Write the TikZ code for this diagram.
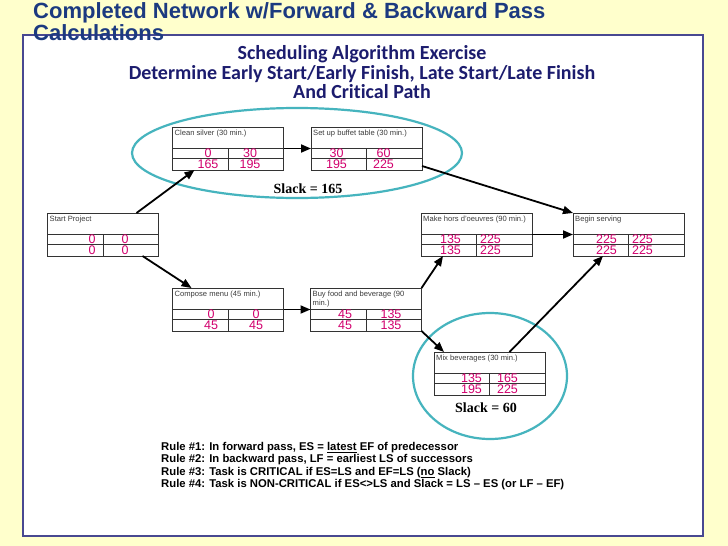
\documentclass[tikz,border=0pt]{standalone}
\usepackage{fontspec}
\setmainfont{Liberation Sans}
\newfontfamily\calib{Carlito}[Ligatures=NoCommon]
\newfontfamily\timesf{Liberation Serif}
\usetikzlibrary{arrows.meta}
\definecolor{bgyellow}{RGB}{255,255,204}
\definecolor{framebl}{RGB}{72,72,145}
\definecolor{titlebl}{RGB}{28,58,128}
\definecolor{subbl}{RGB}{28,28,110}
\definecolor{numpink}{RGB}{210,0,110}
\definecolor{ellteal}{RGB}{70,180,190}
\definecolor{lblgray}{RGB}{60,60,60}
\newcommand{\mytask}[9]{%
  \node[taskbox] (#1) at (#2) {};
  \draw[boxline] ([yshift=-21pt]#1.north west) -- ([yshift=-21pt]#1.north east);
  \draw[boxline] ([yshift=-31.5pt]#1.north west) -- ([yshift=-31.5pt]#1.north east);
  \draw[boxline] ([yshift=-21pt]#1.north) -- (#1.south);
  \node[lbl] (#1-l) at ([xshift=2pt,yshift=-3pt]#1.north west) {#3};
  \node[num] (#1-es) at ([xshift=#8pt,yshift=-4.5pt]#1.center) {#4};
  \node[num] (#1-ef) at ([xshift=#9pt,yshift=-4.5pt]#1.center) {#5};
  \node[num] (#1-ls) at ([xshift=#8pt,yshift=-15.5pt]#1.center) {#6};
  \node[num] (#1-lf) at ([xshift=#9pt,yshift=-15.5pt]#1.center) {#7};
}
\begin{document}
\begin{tikzpicture}[x=1pt,y=-1pt,
  taskbox/.style={draw=black!80, line width=0.8pt, minimum width=111pt, minimum height=43pt, inner sep=0pt, outer sep=0pt},
  boxline/.style={draw=black!80, line width=0.8pt},
  arr/.style={draw=black, line width=1.8pt, -{Triangle[length=10pt,width=8pt]}},
  num/.style={text=numpink, font=\fontsize{12.5}{12.5}\selectfont, inner sep=0pt},
  lbl/.style={text=lblgray, font=\fontsize{7.6}{8.4}\selectfont, inner sep=0pt, anchor=north west, align=left},
  slack/.style={font=\timesf\bfseries\fontsize{14}{14}\selectfont, inner sep=0pt},
  ring/.style={draw=ellteal, line width=2.2pt},
  rule/.style={font=\bfseries\fontsize{11.3}{12}\selectfont, inner sep=0pt, anchor=base west},
  subt/.style={font=\calib\bfseries\fontsize{20}{20}\selectfont, text=subbl, inner sep=0pt, anchor=base},
  ttl/.style={font=\bfseries\fontsize{22}{22}\selectfont, text=titlebl, inner sep=0pt, anchor=base west}]

\fill[bgyellow] (0,0) rectangle (728,546);
\useasboundingbox (0,0) rectangle (728,546);
\draw[framebl, line width=2.5pt, fill=white] (23,35) rectangle (703,536);

\node[ttl] (title1) at (33,19) {Completed Network w/Forward \& Backward Pass};
\node[ttl] (title2) at (33,40) {Calculations};

\node[subt] (sub1) at (362,59) {Scheduling Algorithm Exercise};
\node[subt] (sub2) at (362,79) {Determine Early Start/Early Finish, Late Start/Late Finish};
\node[subt] (sub3) at (362,98) {And Critical Path};

\draw[ring] (297,153) ellipse [x radius=165pt, y radius=45pt];
\draw[ring] (490,376) ellipse [x radius=77pt, y radius=63pt];

\mytask{start}{103,234.5}{Start Project}{0}{0}{0}{0}{-11}{22}
\mytask{clean}{228,148.5}{Clean silver (30 min.)}{0}{30}{165}{195}{-20}{22}
\mytask{buffet}{366.5,148.5}{Set up buffet table (30 min.)}{30}{60}{195}{225}{-30}{17}
\mytask{make}{476.5,234.5}{Make hors d'oeuvres (90 min.)}{135}{225}{135}{225}{-26}{14}
\mytask{begin}{628.5,234.5}{Begin serving}{225}{225}{225}{225}{-22}{14}
\mytask{compose}{228,309.5}{Compose menu (45 min.)}{0}{0}{45}{45}{-17}{28}
\mytask{buy}{366,309.5}{Buy food and beverage (90\\min.)}{45}{135}{45}{135}{-21}{25}
\mytask{mix}{489.5,373.5}{Mix beverages (30 min.)}{135}{165}{195}{225}{-18}{18}

\draw[arr] ([xshift=-22pt]start.north east) -- ([xshift=22pt]clean.south west);
\draw[arr] ([xshift=-16pt]start.south east) -- ([xshift=19pt]compose.north west);
\draw[arr] (clean.east) -- (buffet.west);
\draw[arr] ([yshift=4pt]buffet.south east) -- (begin.north west);
\draw[arr] (compose.east) -- (buy.west);
\draw[arr] (buy.north east) -- ([xshift=22pt]make.south west);
\draw[arr] (buy.south east) -- ([xshift=10pt]mix.north west);
\draw[arr] (make.east) -- (begin.west);
\draw[arr] ([xshift=20pt]mix.north) -- ([xshift=30pt]begin.south west);

\node[slack] (slack1) at (308,189) {Slack = 165};
\node[slack] (slack2) at (486,408) {Slack = 60};

\node[rule] (r1) at (161,450.5) {Rule \#1: In forward pass, ES = \underline{latest} EF of predecessor};
\node[rule] (r2) at (161,462.5) {Rule \#2: In backward pass, LF = earliest LS of successors};
\node[rule] (r3) at (161,475.5) {Rule \#3: Task is CRITICAL if ES=LS and EF=LS (\underline{no} Slack)};
\node[rule] (r4) at (161,487.5) {Rule \#4: Task is NON-CRITICAL if ES<>LS and Slack = LS – ES (or LF – EF)};
\end{tikzpicture}
\end{document}
